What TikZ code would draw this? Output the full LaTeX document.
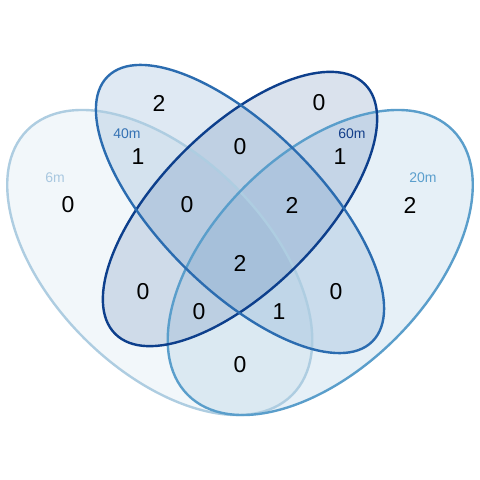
\documentclass[tikz,border=0pt]{standalone}
\usepackage{fontspec}
\setmainfont{Liberation Sans}
\definecolor{colA}{HTML}{AECDE1}
\definecolor{colB}{HTML}{2B6CB0}
\definecolor{colC}{HTML}{0D3F8C}
\definecolor{colD}{HTML}{5A9ECB}
\definecolor{labA}{HTML}{A9C8E0}
\definecolor{labB}{HTML}{3472B4}
\definecolor{labC}{HTML}{143F8A}
\definecolor{labD}{HTML}{5B9FCD}
\tikzset{
  num/.style={font=\fontsize{23}{25}\selectfont, text=black, inner sep=0pt},
  setlab/.style={font=\fontsize{14}{16}\selectfont, inner sep=0pt},
  setfill/.style={draw=none, fill opacity=0.15},
  setline/.style={line width=2.4pt, fill=none},
}
\begin{document}
\begin{tikzpicture}[x=1pt,y=1pt]
\useasboundingbox (0,0) rectangle (480,480);
\fill[white] (0,0) rectangle (480,480);
% fills
\fill[setfill, fill=colA, rotate around={-45:(159.75,217.5)}] (159.75,217.5) ellipse [x radius=187.25, y radius=107];
\fill[setfill, fill=colD, rotate around={45:(320.25,217.5)}] (320.25,217.5) ellipse [x radius=187.25, y radius=107];
\fill[setfill, fill=colC, rotate around={45:(240,271)}] (240,271) ellipse [x radius=176.55, y radius=80.25];
\fill[setfill, fill=colB, rotate around={-45:(240,271)}] (240,271) ellipse [x radius=187.25, y radius=80.25];
% outlines
\draw[setline, draw=colA, rotate around={-45:(159.75,217.5)}] (159.75,217.5) ellipse [x radius=187.25, y radius=107];
\draw[setline, draw=colD, rotate around={45:(320.25,217.5)}] (320.25,217.5) ellipse [x radius=187.25, y radius=107];
\draw[setline, draw=colC, rotate around={45:(240,271)}] (240,271) ellipse [x radius=176.55, y radius=80.25];
\draw[setline, draw=colB, rotate around={-45:(240,271)}] (240,271) ellipse [x radius=187.25, y radius=80.25];
% set labels
\node[setlab, text=labA] (labA) at (55,302) {6m};
\node[setlab, text=labB] (labB) at (127,346) {40m};
\node[setlab, text=labC] (labC) at (352,346) {60m};
\node[setlab, text=labD] (labD) at (423,302) {20m};
% counts
\node[num] (n1) at (159,377) {2};
\node[num] (n2) at (319,377) {0};
\node[num] (n3) at (138,323) {1};
\node[num] (n4) at (240,333) {0};
\node[num] (n5) at (340,323) {1};
\node[num] (n6) at (68,275) {0};
\node[num] (n7) at (187,275) {0};
\node[num] (n8) at (292,275) {2};
\node[num] (n9) at (410,275) {2};
\node[num] (n10) at (240,217) {2};
\node[num] (n11) at (143,188) {0};
\node[num] (n12) at (336,188) {0};
\node[num] (n13) at (199,168) {0};
\node[num] (n14) at (279,168) {1};
\node[num] (n15) at (240,115) {0};
\end{tikzpicture}
\end{document}
